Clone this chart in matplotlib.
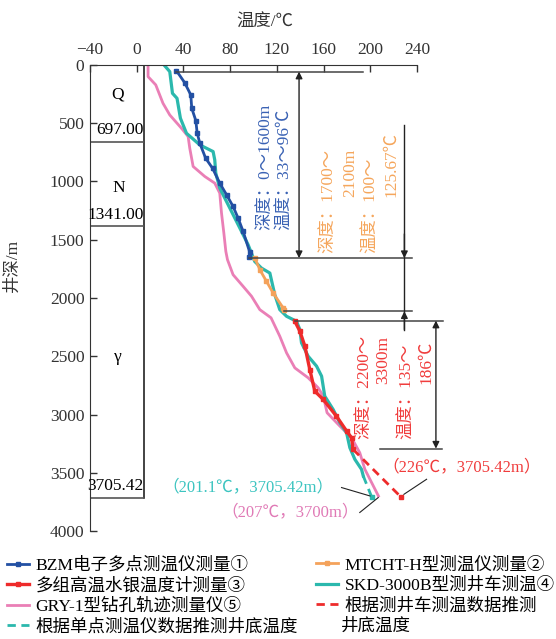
import matplotlib.pyplot as plt

plt.rcParams['font.family'] = ['Liberation Serif', 'Noto Sans CJK SC']
plt.rcParams['axes.unicode_minus'] = True

# BZM electronic multipoint thermometer
bzm_t = [34, 41, 46.3, 47.1, 50.6, 51.7, 54, 59, 64.9, 71.1, 76.9, 82.5, 86.8, 91.1, 96.8, 96.5]
bzm_d = [49, 151, 257, 371, 477, 580, 671, 800, 886, 1014, 1114, 1214, 1314, 1428, 1608, 1650]

# MTCHT-H thermometer
mtcht_t = [101.1, 105.4, 111.1, 116.8, 125.4, 126.5]
mtcht_d = [1656, 1757, 1857, 1957, 2085, 2100]

# mercury thermometers
hg_t = [135.4, 139.7, 144, 148.2, 152.5, 159.7, 171, 179.7, 184, 185.3]
hg_d = [2200, 2285, 2414, 2614, 2800, 2871, 3014, 3142, 3200, 3300]

# SKD-3000B logging truck
skd_t = [23.4, 28.3, 30.6, 34.5, 37.4, 42.6, 54, 65.4, 66.8, 67.7, 71.1, 79.7, 88.3, 95.4,
         101, 106.8, 114, 118.2, 122.5, 128.3, 136.8, 139.7, 141.1, 146.8, 154, 158.3, 161,
         168.2, 174, 179.7, 182.5, 186.8, 192.5, 194]
skd_d = [0, 57, 243, 286, 457, 586, 686, 743, 814, 928, 1057, 1228, 1400, 1543,
         1686, 1743, 1786, 1971, 2100, 2157, 2200, 2271, 2385, 2500, 2585, 2671, 2842,
         2957, 3071, 3157, 3285, 3385, 3471, 3528]

# GRY-1 borehole trajectory instrument
gry_t = [9.7, 9.7, 16.3, 22.5, 28.3, 38.3, 44, 45.4, 48.3, 58.3, 66.8, 71.1, 72.6, 74.6,
         76.3, 77.7, 82.5, 91.1, 98.3, 105.4, 115, 122.5, 128.3, 135.4, 146.8, 155.4,
         159.7, 163, 174, 184, 191, 195.4, 207]
gry_d = [0, 100, 171, 329, 429, 543, 614, 714, 871, 957, 1014, 1100, 1271, 1442,
         1600, 1671, 1800, 1900, 1985, 2100, 2170, 2328, 2471, 2600, 2685, 2771,
         2842, 2985, 3100, 3200, 3328, 3471, 3700]

# extrapolated bottom-hole temperatures
ext_red_t = [185.3, 226]
ext_red_d = [3300, 3705.42]
ext_cyan_t = [194, 201.1]
ext_cyan_d = [3528, 3705.42]

strata_lines = [660, 1378, 3713]

c_blue = '#2350a3'
c_orange = '#f4a25b'
c_red = '#ee2b2b'
c_cyan = '#2bb8ad'
c_pink = '#ea7fb6'
gray = '#444444'

fig = plt.figure(figsize=(5.56, 6.39), dpi=100)
ax = fig.add_axes([0.1619, 0.169, 0.5881, 0.7293])
ax.set_xlim(-40, 240)
ax.set_ylim(4000, 0)
ax.set_xticks(range(-40, 241, 40))
ax.set_yticks(range(0, 4001, 500))
ax.xaxis.tick_top()
ax.tick_params(axis='both', direction='in', length=5, width=1, labelsize=12.5, colors='#333333')
ax.tick_params(axis='x', pad=5)
ax.tick_params(axis='y', pad=4)
for s in ['right', 'bottom']:
    ax.spines[s].set_visible(False)
for s in ['left', 'top']:
    ax.spines[s].set_color('#333333')

# stratigraphic column
ax.plot([6, 6], [0, 3713], color='#222222', lw=1.2)
ax.hlines(strata_lines, -40, 6, color='#555555', lw=1.2)
ax.text(-16, 257, 'Q', fontsize=12.5, ha='center', va='center')
ax.text(-15, 1054, 'N', fontsize=12.5, ha='center', va='center')
ax.text(-16, 2510, 'γ', fontsize=12.5, ha='center', va='center')
ax.text(6, 557, '697.00', fontsize=12.5, ha='right', va='center')
ax.text(6, 1286, '1341.00', fontsize=12.5, ha='right', va='center')
ax.text(6, 3614, '3705.42', fontsize=12.5, ha='right', va='center')

# curves
ax.plot(gry_t, gry_d, color=c_pink, lw=2, label='GRY-1型钻孔轨迹测量仪⑤')
ax.plot(skd_t, skd_d, color=c_cyan, lw=2.3, label='SKD-3000B型测井车测温④')
ax.plot(ext_cyan_t, ext_cyan_d, color=c_cyan, lw=2, ls=(0, (3, 2)),
        label='根据单点测温仪数据推测井底温度')
ax.plot(ext_red_t, ext_red_d, color=c_red, lw=2, ls=(0, (3, 2)),
        label='根据测井车测温数据推测')
ax.plot(bzm_t, bzm_d, color=c_blue, lw=2, marker='s', ms=3, label='BZM电子多点测温仪测量①')
ax.plot(mtcht_t, mtcht_d, color=c_orange, lw=2, marker='s', ms=3, label='MTCHT-H型测温仪测量②')
ax.plot(hg_t, hg_d, color=c_red, lw=2.4, marker='s', ms=3.5, label='多组高温水银温度计测量③')
ax.plot([ext_red_t[-1]], [ext_red_d[-1]], color=c_red, marker='s', ms=3.5, clip_on=False)
ax.plot([ext_cyan_t[-1]], [ext_cyan_d[-1]], color=c_cyan, marker='s', ms=3, clip_on=False)

# dimension lines
dim = dict(color=gray, lw=1.1, clip_on=False)
ax.plot([34, 193.7], [57, 57], **dim)
ax.plot([96.5, 235.4], [1658, 1658], **dim)
ax.plot([126.5, 235.4], [2114, 2114], **dim)
ax.plot([135.5, 262], [2194, 2194], **dim)
ax.plot([208, 261], [3293, 3293], **dim)

arr2 = dict(arrowstyle='<|-|>', color='#222222', lw=1, mutation_scale=10, shrinkA=0, shrinkB=0)
arr1 = dict(arrowstyle='-|>', color='#222222', lw=1, mutation_scale=10, shrinkA=0, shrinkB=0)
ax.annotate('', xy=(139, 57), xytext=(139, 1658), arrowprops=arr2, annotation_clip=False)
ax.plot([229.2, 229.2], [514, 2271], color='#222222', lw=1, clip_on=False)
ax.annotate('', xy=(229.2, 1658), xytext=(229.2, 1450), arrowprops=arr1, annotation_clip=False)
ax.annotate('', xy=(229.2, 2114), xytext=(229.2, 2271), arrowprops=arr1, annotation_clip=False)
ax.annotate('', xy=(256.2, 2194), xytext=(256.2, 3293), arrowprops=arr2, annotation_clip=False)

# rotated range notes
rt = dict(rotation=90, ha='center', va='bottom', fontsize=12.5)
ax.text(109.7, 1414, '深度：0～1600m', color='#3a62b4', **rt)
ax.text(126.8, 1414, '温度：33～96℃', color='#3a62b4', **rt)
ax.text(163.9, 1611, '深度：1700～', color='#f5a65c', **rt)
ax.text(182.5, 1129, '2100m', color='#f5a65c', **rt)
ax.text(201.1, 1611, '温度：100～', color='#f5a65c', **rt)
ax.text(218.3, 1129, '125.67℃', color='#f5a65c', **rt)
ax.text(194.5, 3213, '深度：2200～', color='#f03c3c', clip_on=False, **rt)
ax.text(211, 2742, '3300m', color='#f03c3c', clip_on=False, **rt)
ax.text(231.1, 3213, '温度：135～', color='#f03c3c', clip_on=False, **rt)
ax.text(248.2, 2742, '186℃', color='#f03c3c', clip_on=False, **rt)

# bottom-hole callouts
lead = dict(color='#222222', lw=0.8, clip_on=False)
ax.text(95, 3625, '（201.1℃，3705.42m）', color='#3cc4c0', fontsize=12, ha='center', va='center')
ax.plot([175.4, 199.7], [3627, 3699], **lead)
ax.text(131, 3839, '（207℃，3700m）', color='#e07ab6', fontsize=12, ha='center', va='center')
ax.plot([191, 206.8], [3841, 3713], **lead)
ax.text(278, 3453, '（226℃，3705.42m）', color='#f03c3c', fontsize=12, ha='center', va='center')
ax.plot([248.2, 228.8], [3556, 3685], **lead)

fig.text(0.477, 0.964, '温度/℃', fontsize=12.5, ha='center', va='center', color='#333333')
fig.text(0.022, 0.585, '井深/m', fontsize=12.5, ha='center', va='center', rotation=90, color='#333333')

# legends
h = {l.get_label(): l for l in ax.get_lines()}
col1 = ['BZM电子多点测温仪测量①', '多组高温水银温度计测量③', 'GRY-1型钻孔轨迹测量仪⑤',
        '根据单点测温仪数据推测井底温度']
col2 = ['MTCHT-H型测温仪测量②', 'SKD-3000B型测井车测温④', '根据测井车测温数据推测']
lg = dict(loc='upper left', frameon=False, fontsize=12.6, handlelength=1.25, handletextpad=0.4,
          labelspacing=0.24, borderpad=0, borderaxespad=0)
fig.legend(handles=[h[k] for k in col1], labels=col1, bbox_to_anchor=(0.012, 0.128), **lg)
fig.legend(handles=[h[k] for k in col2], labels=col2, bbox_to_anchor=(0.568, 0.128), **lg)
fig.text(0.614, 0.02, '井底温度', fontsize=12.6, ha='left', va='center')

fig.savefig('out.png', dpi=100)
